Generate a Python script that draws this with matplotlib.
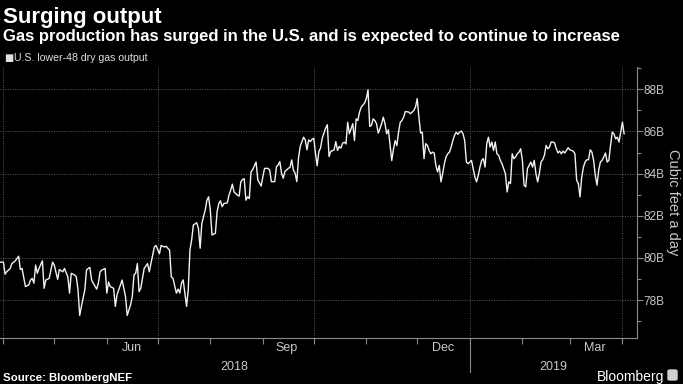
import numpy as np
import pandas as pd
import matplotlib
matplotlib.use("Agg")
import matplotlib.pyplot as plt
import matplotlib.dates as mdates
import matplotlib.transforms as mtransforms
from matplotlib.ticker import MultipleLocator, NullFormatter
from matplotlib.patches import FancyBboxPatch

# days since 2018-03-30
day = [0, 2, 3, 4, 6, 7, 9, 11, 12, 13, 15, 17, 18, 19, 20, 21, 22, 23, 25, 26,
       27, 29, 31, 32, 34, 35, 37, 38, 40, 41, 42, 44, 45, 46, 47, 48, 50, 51, 52,
       53, 54, 55, 57, 58, 59, 60, 62, 63, 64, 65, 67, 68, 69, 71, 72, 74, 75, 77,
       78, 79, 80, 81, 82, 83, 85, 87, 88, 90, 91, 92, 94, 95, 97, 98, 100, 101, 102,
       104, 105, 106, 107, 108, 109, 110, 111, 112, 113, 114, 116, 117, 118, 119,
       121, 122, 123, 124, 125, 127, 128, 129, 130, 131, 132, 134, 135, 136, 137,
       138, 140, 141, 142, 143, 144, 145, 146, 147, 148, 149, 151, 152,
       154, 155, 156, 158, 159, 160, 162, 163, 164, 165, 166, 167, 168, 170, 171,
       172, 173, 174, 175, 176, 177, 179, 180, 181, 182, 183, 184, 185, 186, 187,
       188, 189, 190, 191, 192, 193, 194, 195, 197, 198, 199, 200, 201, 202,
       203, 204, 205, 206, 207, 208, 209, 210, 211, 212, 213, 215, 216, 217, 218,
       219, 220, 221, 222, 223, 224, 225, 226, 227, 228, 229, 230, 231, 232, 233,
       234, 235, 236, 237, 238, 239, 241, 242, 243, 244, 245, 246, 247, 248, 249,
       250, 251, 252, 253, 254, 255, 256, 257, 258, 259, 260, 261, 262, 263, 264,
       265, 266, 267, 268, 269, 270, 271, 272, 273, 274, 275, 276, 277, 278, 279,
       280, 281, 282, 283, 284, 285, 286, 287, 288, 289, 290, 291, 292, 293, 294,
       295, 296, 297, 298, 299, 300, 301, 302,
       303, 304, 305, 306, 307, 308, 309, 310, 311, 312, 313, 314, 315, 316, 317,
       318, 319, 320, 321, 322, 323, 324, 325, 326, 327, 328, 329, 330, 331, 332,
       333, 334, 335, 336, 338, 339, 340, 341, 342, 343, 344, 345, 346, 347, 348,
       349, 350, 351, 352, 353,
       354, 355, 356, 357, 358, 359, 360, 361, 362, 363, 364, 365, 366, 367, 368]

# U.S. lower-48 dry gas output, billion cubic feet a day
bcf = [79.8, 79.8, 79.23, 79.35, 79.5, 79.73, 79.86, 80.08, 79.45, 79.5, 78.64, 78.72,
       78.95, 79.03, 78.8, 79.66, 79.27, 79.5, 79.86, 78.56, 78.95, 79.03, 79.8, 79.66,
       78.98, 79.45, 79.34, 79.5, 79.1, 78.33, 79.27, 79.19, 79.1, 78.48, 77.27, 77.7,
       78.48, 79.42, 79.5,
       79.55, 78.95, 78.8, 78.52, 78.8, 79.34, 79.42, 79.5, 78.33, 78.86, 78.64, 78.56,
       77.7, 78.25, 78.72, 78.95, 78.17, 77.27, 77.78, 78.17, 79.19, 79.27, 79.73, 78.4,
       78.56, 79.5, 79.73, 79.34, 80.13, 80.52, 80.59, 80.2, 80.59, 80.52, 80.55, 80.36,
       79.1, 79.03,
       78.33, 78.52, 78.33, 78.8, 78.96, 78.33, 77.7, 78.49, 80.38, 80.85, 81.56, 81.67,
       81.4, 80.46, 81.64, 82.27, 82.74, 82.9, 82.27, 81.09, 81.17, 82.19, 82.58, 82.71,
       82.43, 82.58, 82.61, 82.98, 83.21, 83.5, 83.13, 82.98, 82.93, 83.61, 83.72, 83.76,
       82.74, 82.9, 82.82, 84.08, 84.19, 84.55, 83.7,
       83.41, 83.86, 84.25, 84.25, 84.17, 83.62, 83.62, 84.33, 84.41, 84.57, 84.02, 83.78,
       84.1, 84.25, 84.3, 84.65, 84.17, 84.02, 83.62, 84.73, 85.29, 85.73, 85.6, 85.13,
       85.6, 85.52, 85.63, 85.68, 84.97, 84.37, 85.05, 85.21, 85.68, 85.92, 86.16, 86.32,
       84.81, 85.05, 85.13, 85.52, 85.1, 85.29, 85.21, 85.44,
       85.49, 85.41, 86.44, 85.89, 86.13, 86.37, 85.57, 86.6, 86.52, 86.92, 87.16, 87.35,
       87.56, 87.98, 86.24, 86.29, 86.6, 86.52, 86.37, 85.92, 86.13, 86.37, 86.68, 86.37,
       85.89, 86.08, 85.33, 84.62, 85.17, 85.57, 85.33, 85.97, 86.44, 86.52, 86.68, 86.95,
       86.92, 86.84, 86.92, 87.0, 87.16, 87.56, 86.68, 85.92, 85.97,
       84.71, 85.42, 85.34, 85.1, 84.94, 85.02, 84.98, 84.39, 84.08, 84.39, 83.61, 84.0,
       84.47, 84.79, 84.94, 85.02, 85.26, 85.57, 85.81, 85.97, 85.86, 85.97, 86.02, 85.89,
       85.57, 84.55, 84.47, 84.55, 84.63, 84.24, 83.84, 83.61, 83.92, 84.31, 84.63, 84.71,
       84.31, 85.42, 85.73, 85.26, 85.5, 85.1, 85.5, 84.94, 84.87, 84.63, 84.47, 84.24,
       84.0, 83.13, 83.61, 83.53, 84.94,
       84.71, 84.79, 84.94, 85.02, 85.18, 84.63, 83.45, 83.37, 84.24, 84.39, 84.55, 84.31,
       84.63, 84.0, 83.61, 84.0, 84.55, 84.66, 84.87, 85.34, 85.18, 85.26, 85.5, 85.5,
       85.46, 85.18, 84.98, 85.07, 84.94, 85.07, 84.98, 85.1, 85.23, 85.13, 85.07, 84.94,
       83.69, 83.53, 82.9, 83.84, 84.31, 84.55, 84.66, 84.66, 85.13, 85.02, 84.63, 83.92,
       83.45, 84.16,
       84.55, 84.63, 84.79, 84.98, 84.55, 84.63, 85.34, 85.97, 85.89, 85.65, 85.73, 85.5,
       85.97, 86.44, 85.89]

yticks = [78, 80, 82, 84, 86, 88]
ytick_labels = ["78B", "80B", "82B", "84B", "86B", "88B"]
month_pos = ["2018-06-16", "2018-09-15", "2018-12-16", "2019-03-16"]
month_labels = ["Jun", "Sep", "Dec", "Mar"]
quarters = ["2018-04-01", "2018-07-01", "2018-10-01", "2019-01-01", "2019-04-01"]
years = ["2018", "2019"]
year_pos = ["2018-08-15", "2019-02-19"]

plt.rcParams['font.family'] = ['Liberation Sans', 'DejaVu Sans']

start = pd.Timestamp("2018-03-30")
dates = start + pd.to_timedelta(day, unit="D")

W, H = 683, 384
fig = plt.figure(figsize=(W / 100, H / 100), dpi=100, facecolor="black")
ax = fig.add_axes([0, 1 - 338 / H, 636.7 / W, (338 - 67) / H])
ax.set_facecolor("black")

ax.plot(dates, bcf, color="#f2f2f2", lw=1.0, zorder=3)

ax.set_xlim(start, pd.Timestamp("2019-04-09 10:00"))
ax.set_ylim(76.2, 89.06)

# grid
grid_kw = dict(color="#5a5a5a", lw=0.7, ls=(0, (1, 1.5)), zorder=1)
for q in quarters:
    ax.axvline(pd.Timestamp(q), **grid_kw)
for v in yticks:
    ax.axhline(v, **grid_kw)

# spines
for s in ["left", "top"]:
    ax.spines[s].set_visible(False)
for s in ["bottom", "right"]:
    ax.spines[s].set_color("#8a8a8a")
    ax.spines[s].set_linewidth(0.8)

# x axis
ax.xaxis.set_major_locator(mdates.MonthLocator())
ax.xaxis.set_major_formatter(NullFormatter())
ax.set_xticks([pd.Timestamp(m) for m in month_pos], labels=month_labels, minor=True)
ax.tick_params(axis="x", which="major", length=4, width=0.8, color="#8a8a8a")
ax.tick_params(axis="x", which="minor", length=0, pad=3, labelsize=9, labelcolor="#c8c8c8")

tr = mtransforms.blended_transform_factory(ax.transData, ax.transAxes)
for yr, pos in zip(years, year_pos):
    ax.text(pd.Timestamp(pos), -0.108, yr, transform=tr, ha="center", va="center",
            fontsize=9, color="#c8c8c8")
jan1 = pd.Timestamp("2019-01-01")
ax.plot([jan1, jan1], [-0.02, -0.125], transform=tr, color="#8a8a8a", lw=0.8, clip_on=False)

# y axis on the right
ax.yaxis.tick_right()
ax.set_yticks(yticks, labels=ytick_labels)
ax.yaxis.set_minor_locator(MultipleLocator(1))
ax.tick_params(axis="y", which="major", length=4, width=0.8, color="#8a8a8a",
               labelsize=8.5, labelcolor="#c8c8c8", pad=1)
ax.tick_params(axis="y", which="minor", length=3, width=0.8, color="#8a8a8a")
ax.yaxis.set_label_position("right")
ax.set_ylabel("Cubic feet a day", rotation=270, color="#c8c8c8", fontsize=10.5, labelpad=11)

# titles
fig.text(3 / W, 1 - 23 / H, "Surging output", color="white", fontsize=16,
         fontweight="bold", va="baseline")
fig.text(3 / W, 1 - 41 / H, "Gas production has surged in the U.S. and is expected to continue to increase",
         color="white", fontsize=12, fontweight="bold", va="baseline")
fig.text(4 / W, 1 - 61 / H, "\u25a0", color="#e0e0e0", fontsize=7, va="baseline",
         family=["DejaVu Sans"])
fig.text(14 / W, 1 - 61 / H, "U.S. lower-48 dry gas output", color="#e0e0e0", fontsize=7.6,
         va="baseline")

# footer
fig.text(3 / W, 1 - 381 / H, "Source: BloombergNEF", color="white", fontsize=8.2,
         fontweight="bold", va="baseline")
fig.text(664 / W, 1 - 381 / H, "Bloomberg", color="white", fontsize=10, ha="right",
         va="baseline")
fig.patches.append(FancyBboxPatch((668 / W, 1 - 380 / H), 9 / W, 10 / H,
                                  boxstyle="round,pad=0,rounding_size=0.003",
                                  transform=fig.transFigure, color="#d0d0d0"))

fig.savefig("out.png", dpi=100, facecolor="black")
